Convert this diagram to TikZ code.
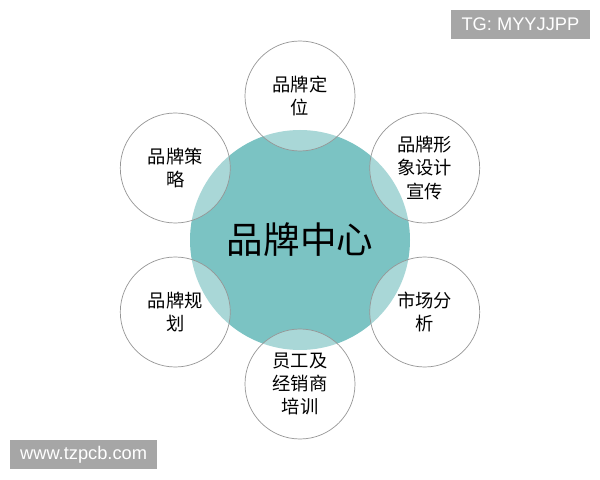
\documentclass[tikz,border=0pt]{standalone}
\usepackage{fontspec}
\setmainfont{Noto Sans CJK SC}
\newfontfamily\wmfont{Liberation Sans}
\usetikzlibrary{positioning}
\definecolor{tealc}{RGB}{123,195,195}
\definecolor{rimgray}{RGB}{150,150,150}
\definecolor{markgray}{RGB}{166,166,166}
\tikzset{
  core/.style={circle, fill=tealc, minimum size=5.5cm, inner sep=0pt,
    font=\fontsize{26}{30}\selectfont},
  topic/.style={circle, draw=rimgray, line width=0.5pt, fill=white,
    fill opacity=0.35, text opacity=1, minimum size=2.75cm, inner sep=0pt,
    align=center, font=\fontsize{13}{16.5}\selectfont},
  wmbox/.style={fill=markgray, text=white, inner sep=0pt,
    font=\wmfont\fontsize{13}{15}\selectfont}
}
\begin{document}
\begin{tikzpicture}
    \useasboundingbox[fill=white] (0,0) rectangle (15,12);
    \node[core] (ctr) at (7.5,6)                         {品牌中心};
    \node[topic] (pos) at ([shift={(90:3.6)}]  ctr) {品牌定\\位};
    \node[topic] (img) at ([shift={(30:3.6)}]  ctr) {品牌形\\象设计\\宣传};
    \node[topic] (mkt) at ([shift={(-30:3.6)}] ctr) {市场分\\析};
    \node[topic] (trn) at ([shift={(-90:3.6)}] ctr) {员工及\\经销商\\培训};
    \node[topic] (pln) at ([shift={(210:3.6)}] ctr) {品牌规\\划};
    \node[topic] (stg) at ([shift={(150:3.6)}] ctr) {品牌策\\略};
    \node[wmbox, minimum width=3.475cm, minimum height=0.725cm] (tg)  at (13.01,11.39) {TG: MYYJJPP};
    \node[wmbox, minimum width=3.675cm, minimum height=0.725cm] (www) at (2.09,0.64)   {www.tzpcb.com};
  \end{tikzpicture}
\end{document}
